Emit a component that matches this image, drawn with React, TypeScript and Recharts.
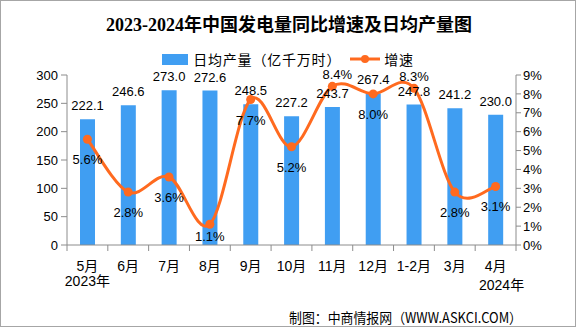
import React from 'react';
import {
  ComposedChart,
  Bar,
  Line,
  XAxis,
  YAxis,
  LabelList,
  Legend,
} from 'recharts';

const months = ['5月', '6月', '7月', '8月', '9月', '10月', '11月', '12月', '1-2月', '3月', '4月'];
const yearNotes = ['2023年', '', '', '', '', '', '', '', '', '', '2024年'];
const dailyOutput = [222.1, 246.6, 273.0, 272.6, 248.5, 227.2, 243.7, 267.4, 247.8, 241.2, 230.0];
const growthRate = [5.6, 2.8, 3.6, 1.1, 7.7, 5.2, 8.4, 8.0, 8.3, 2.8, 3.1];
const leftTicks = [0, 50, 100, 150, 200, 250, 300];
const rightTicks = [0, 1, 2, 3, 4, 5, 6, 7, 8, 9];

const BLUE = '#409EF2';
const ORANGE = '#FF6A1F';
const AXIS = '#8c8c8c';
const NUM_FONT = "'Liberation Sans', Arial, 'Noto Sans CJK SC', sans-serif";
const CJK_FONT = "'Liberation Sans', 'Noto Sans CJK SC', sans-serif";

const W = 576;
const H = 327;
const PLOT_LEFT = 67;
const PLOT_RIGHT = 516;
const BAND = (PLOT_RIGHT - PLOT_LEFT) / months.length;

const chartData = months.map((m, i) => ({
  month: m,
  note: yearNotes[i],
  output: dailyOutput[i],
  growth: growthRate[i],
}));

// catmull-rom style smoothing, similar to the office "smoothed line"
const smoothCurve = (context: any) => {
  let pts: number[][] = [];
  return {
    areaStart() {},
    areaEnd() {},
    lineStart() {
      pts = [];
    },
    point(x: number, y: number) {
      pts.push([+x, +y]);
    },
    lineEnd() {
      if (!pts.length) return;
      context.moveTo(pts[0][0], pts[0][1]);
      for (let i = 0; i < pts.length - 1; i++) {
        const p0 = pts[Math.max(i - 1, 0)];
        const p1 = pts[i];
        const p2 = pts[i + 1];
        const p3 = pts[Math.min(i + 2, pts.length - 1)];
        context.bezierCurveTo(
          p1[0] + (p2[0] - p0[0]) / 6,
          p1[1] + (p2[1] - p0[1]) / 6,
          p2[0] - (p3[0] - p1[0]) / 6,
          p2[1] - (p3[1] - p1[1]) / 6,
          p2[0],
          p2[1],
        );
      }
    },
  };
};

const MonthTick = (props: any) => {
  const { x, y, payload, index } = props;
  const i = payload?.index ?? index;
  const note = yearNotes[i];
  const last = i === months.length - 1;
  return (
    <g>
      <line x1={x - BAND / 2} y1={y} x2={x - BAND / 2} y2={y + 6} stroke={AXIS} />
      {last ? <line x1={x + BAND / 2} y1={y} x2={x + BAND / 2} y2={y + 6} stroke={AXIS} /> : null}
      <text x={x} y={y + 26} textAnchor="middle" fontSize={14} fontFamily={CJK_FONT} fill="#000">
        {payload.value}
      </text>
      {note ? (
        <text
          x={x + (last ? 6 : 0)}
          y={y + (last ? 45 : 41)}
          textAnchor="middle"
          fontSize={14}
          fontFamily={CJK_FONT}
          fill="#000"
        >
          {note}
        </text>
      ) : null}
    </g>
  );
};

const labelAbove = [6, 8];

const GrowthDot = (props: any) => {
  const { cx, cy, index, value } = props;
  const v = Array.isArray(value) ? value[1] : value;
  const above = labelAbove.includes(index);
  const dy = above ? -12 : index === 3 ? 12 : 20;
  const dx = index === 6 ? 5 : 0;
  return (
    <g key={`dot-${index}`}>
      <circle cx={cx} cy={cy} r={4.5} fill={ORANGE} />
      <text
        x={cx + dx}
        y={cy + dy + 5}
        textAnchor="middle"
        fontSize={13}
        fontFamily={NUM_FONT}
        fill="#000"
      >
        {`${Number(v).toFixed(1)}%`}
      </text>
    </g>
  );
};

const LegendContent = () => (
  <div
    style={{
      display: 'flex',
      justifyContent: 'center',
      alignItems: 'center',
      fontSize: 14,
      fontFamily: "'Noto Sans CJK SC', sans-serif",
      color: '#000',
      height: 18,
    }}
  >
    <span style={{ display: 'inline-block', width: 26, height: 11, background: BLUE, marginRight: 5 }} />
    <span style={{ letterSpacing: 0.8 }}>日均产量（亿千万时）</span>
    <svg width={32} height={12} style={{ marginLeft: 8, marginRight: 3 }}>
      <line x1={1} y1={6} x2={31} y2={6} stroke={ORANGE} strokeWidth={3} />
      <circle cx={16} cy={6} r={4} fill={ORANGE} />
    </svg>
    <span style={{ letterSpacing: 0.8 }}>增速</span>
  </div>
);

export default function App() {
  return (
    <div
      style={{
        position: 'relative',
        width: W,
        height: H,
        boxSizing: 'border-box',
        border: '1px solid #a6a6a6',
        background: '#fff',
        overflow: 'hidden',
      }}
    >
      <style>{'body{margin:0}'}</style>
      <div
        style={{
          position: 'absolute',
          top: 12,
          left: 0,
          width: W,
          textAlign: 'center',
          fontSize: 18,
          lineHeight: '24px',
          fontWeight: 'bold',
          fontFamily: "'Liberation Serif', 'Noto Sans CJK SC', serif",
          color: '#000',
        }}
      >
        2023-2024年中国发电量同比增速及日均产量图
      </div>
      <div style={{ position: 'absolute', top: -1, left: -1 }}>
        <ComposedChart
          width={W}
          height={H}
          data={chartData}
          margin={{ top: 75, right: 0, bottom: 0, left: 0 }}
          barCategoryGap={0}
        >
          <Legend
            verticalAlign="middle"
            layout="horizontal"
            align="center"
            content={<LegendContent />}
            wrapperStyle={{ top: 50, left: 0, width: W }}
          />
          <XAxis
            dataKey="month"
            height={82}
            interval={0}
            axisLine={{ stroke: AXIS }}
            tickLine={false}
            tickSize={0}
            tickMargin={0}
            tick={<MonthTick />}
          />
          <YAxis
            yAxisId="left"
            width={67}
            domain={[0, 300]}
            ticks={leftTicks}
            interval={0}
            axisLine={{ stroke: AXIS }}
            tickLine={{ stroke: AXIS }}
            tickSize={6}
            tickMargin={3}
            tick={{ fontSize: 13, fontFamily: NUM_FONT, fill: '#000' }}
          />
          <YAxis
            yAxisId="right"
            orientation="right"
            width={60}
            domain={[0, 9]}
            ticks={rightTicks}
            interval={0}
            axisLine={{ stroke: AXIS }}
            tickLine={{ stroke: AXIS }}
            tickSize={5}
            tickMargin={2}
            tickFormatter={(v: number) => `${v}%`}
            tick={{ fontSize: 13, fontFamily: NUM_FONT, fill: '#000' }}
          />
          <Bar yAxisId="left" dataKey="output" fill={BLUE} barSize={15} isAnimationActive={false}>
            <LabelList
              dataKey="output"
              position="top"
              offset={9}
              fontSize={13}
              fontFamily={NUM_FONT}
              fill="#000"
              formatter={(v: any) => Number(v).toFixed(1)}
            />
          </Bar>
          <Line
            yAxisId="right"
            dataKey="growth"
            type={smoothCurve as any}
            stroke={ORANGE}
            strokeWidth={3}
            dot={(p: any) => <GrowthDot key={`g-${p.index}`} {...p} />}
            activeDot={false}
            isAnimationActive={false}
          />
        </ComposedChart>
      </div>
      <svg width={W} height={H} style={{ position: 'absolute', top: -1, left: -1, pointerEvents: 'none' }}>
        <text
          x={289}
          y={323}
          textLength={233}
          lengthAdjust="spacingAndGlyphs"
          fontSize={14}
          fontFamily="'Noto Sans CJK SC', sans-serif"
          fill="#000"
        >
          制图：中商情报网（WWW.ASKCI.COM）
        </text>
      </svg>
    </div>
  );
}
